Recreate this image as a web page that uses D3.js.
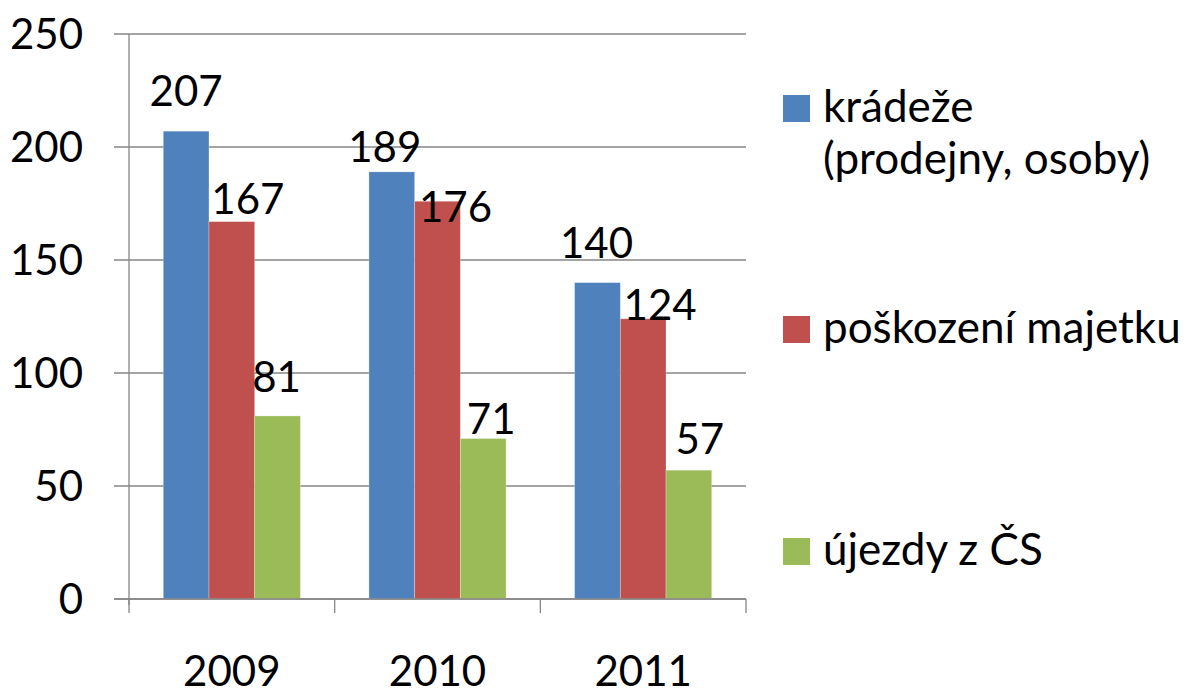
<!DOCTYPE html>
<html lang="cs">
<head>
  <meta charset="UTF-8">
  <title>Kriminalita 2009-2011</title>
  <style>
    body { margin: 0; background: #fff; }
    svg text { font-family: Lato, "Open Sans", sans-serif; fill: #000; }
  </style>
</head>
<body>
  <svg id="chart" width="1184" height="693"></svg>

  <script src="https://d3js.org/d3.v7.min.js"></script>
  <script>
    // data
    const years = ['2009', '2010', '2011'];
    const seriesNames = ['krádeže (prodejny, osoby)', 'poškození majetku', 'újezdy z ČS'];
    const kradeze = [207, 189, 140];
    const poskozeni = [167, 176, 124];
    const ujezdy = [81, 71, 57];
    const yTicks = [0, 50, 100, 150, 200, 250];

    const colors = ['#4f81bd', '#c0504d', '#9bbb59'];
    const allValues = [kradeze, poskozeni, ujezdy];

    // Excel nudged the data labels around; [dx, gap above bar top]
    const labelNudge = [
      [[0, 25], [-7, 10], [-1, 25]],
      [[16, 8], [18, -21], [17, -1]],
      [[-1, 24], [8, 5], [11, 16]]
    ];

    const svg = d3.select('#chart');
    const plotLeft = 129, plotRight = 746, plotTop = 34, plotBottom = 599;

    const x0 = d3.scaleBand().domain(years).range([plotLeft, plotRight]);
    const bw = x0.bandwidth();
    const x1 = d3.scaleBand().domain(d3.range(3)).range([bw / 6, bw * 5 / 6]);
    const y = d3.scaleLinear().domain([0, 250]).range([plotBottom, plotTop]);

    // gridlines
    svg.append('g')
      .selectAll('line').data(yTicks).join('line')
      .attr('x1', plotLeft - 15).attr('x2', plotRight)
      .attr('y1', d => y(d)).attr('y2', d => y(d))
      .attr('stroke', '#868686').attr('stroke-width', 1.3);

    // y axis
    svg.append('line')
      .attr('x1', plotLeft).attr('x2', plotLeft)
      .attr('y1', plotTop).attr('y2', plotBottom + 6)
      .attr('stroke', '#868686').attr('stroke-width', 1.3);

    svg.append('g')
      .selectAll('text').data(yTicks).join('text')
      .attr('x', 83).attr('y', d => y(d))
      .attr('dy', '0.36em')
      .attr('text-anchor', 'end')
      .attr('font-size', 42)
      .text(d => d);

    // bars
    const groups = svg.append('g')
      .selectAll('g').data(years).join('g')
      .attr('transform', d => `translate(${x0(d)},0)`);

    groups.selectAll('rect')
      .data((yr, i) => allValues.map((vals, s) => ({ s, v: vals[i] })))
      .join('rect')
      .attr('x', d => x1(d.s))
      .attr('width', x1.bandwidth())
      .attr('y', d => y(d.v))
      .attr('height', d => y(0) - y(d.v))
      .attr('fill', d => colors[d.s])
      .attr('stroke', 'rgba(255,255,255,0.35)')
      .attr('stroke-width', 0.8);

    groups.selectAll('text')
      .data((yr, i) => allValues.map((vals, s) => ({ s, i, v: vals[i] })))
      .join('text')
      .attr('x', d => x1(d.s) + x1.bandwidth() / 2 + labelNudge[d.s][d.i][0])
      .attr('y', d => y(d.v) - labelNudge[d.s][d.i][1])
      .attr('text-anchor', 'middle')
      .attr('font-size', 42)
      .text(d => d.v);

    // x axis
    svg.append('line')
      .attr('x1', plotLeft - 15).attr('x2', plotRight)
      .attr('y1', plotBottom).attr('y2', plotBottom)
      .attr('stroke', '#868686').attr('stroke-width', 1.3);

    const xTicks = years.map(d => x0(d)).concat([plotRight]);
    svg.append('g')
      .selectAll('line').data(xTicks).join('line')
      .attr('x1', d => d).attr('x2', d => d)
      .attr('y1', plotBottom).attr('y2', plotBottom + 14)
      .attr('stroke', '#868686').attr('stroke-width', 1.3);

    svg.append('g')
      .selectAll('text').data(years).join('text')
      .attr('x', d => x0(d) + bw / 2)
      .attr('y', 686)
      .attr('text-anchor', 'middle')
      .attr('font-size', 42)
      .text(d => d);

    // legend
    const legendY = [122, 343, 565];
    const legend = svg.append('g')
      .selectAll('g').data(seriesNames).join('g')
      .attr('transform', (d, i) => `translate(783,${legendY[i]})`);

    legend.append('rect')
      .attr('x', 0).attr('y', -27)
      .attr('width', 27).attr('height', 27)
      .attr('fill', (d, i) => colors[i]);

    legend.append('text')
      .attr('x', 40)
      .attr('font-size', 44)
      .each(function (d) {
        const lines = d === seriesNames[0] ? ['krádeže', '(prodejny, osoby)'] : [d];
        d3.select(this).selectAll('tspan').data(lines).join('tspan')
          .attr('x', 40)
          .attr('dy', (l, k) => k === 0 ? 0 : 52)
          .text(l => l);
      });
  </script>
</body>
</html>
